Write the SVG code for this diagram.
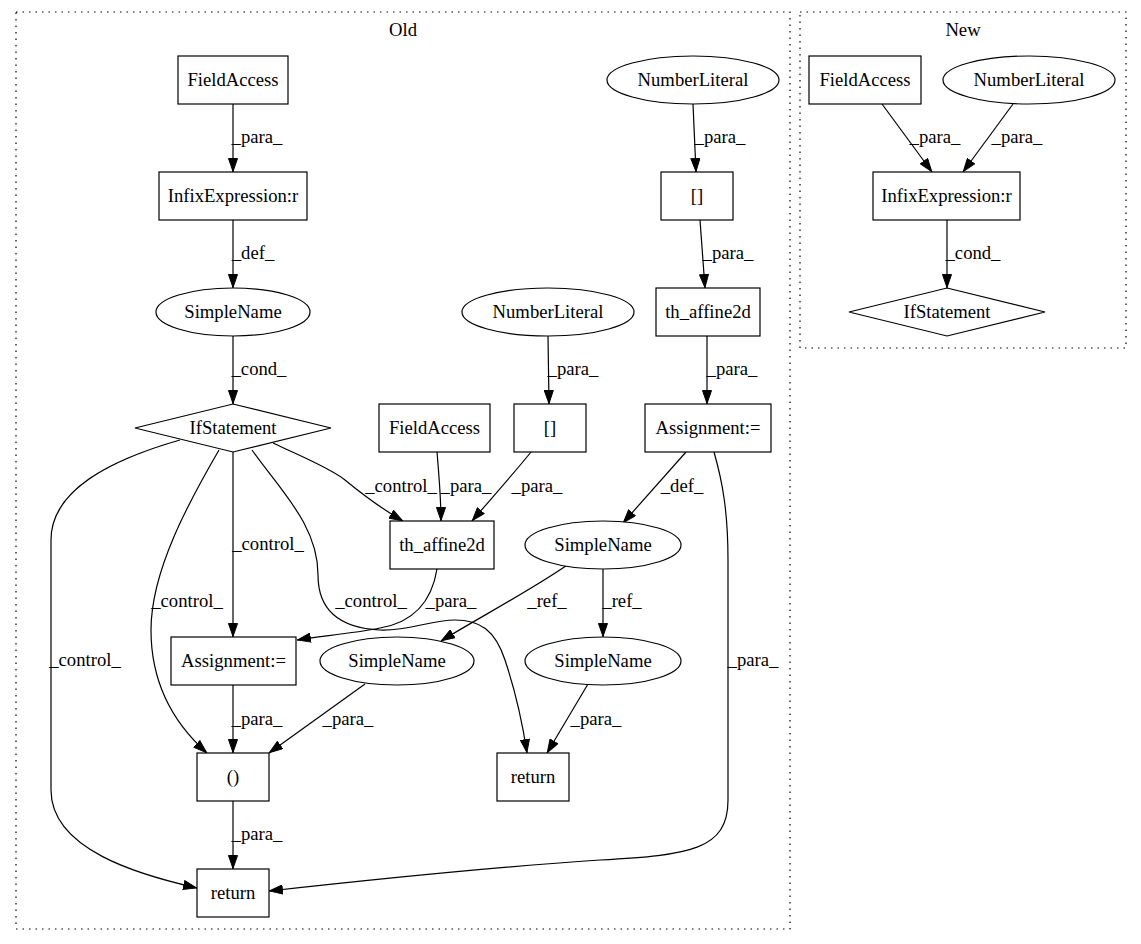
<svg xmlns="http://www.w3.org/2000/svg" width="1141" height="944" viewBox="0 0 1141 944">
<style>
text{font-family:"Liberation Serif","Times New Roman",serif;font-size:18.67px;fill:#000;stroke:none;text-anchor:middle}
.n{fill:#fff;stroke:#000;stroke-width:1.2}
.e{fill:none;stroke:#000;stroke-width:1.2}
.c{fill:none;stroke:#000;stroke-width:1.2;stroke-dasharray:1.5,5}
</style>
<defs>
<marker id="a" viewBox="0 0 14 10" refX="14" refY="5" markerWidth="14" markerHeight="10" markerUnits="userSpaceOnUse" orient="auto">
<path d="M0.5,0.5 L13.5,5 L0.5,9.5 z" fill="#000" stroke="#000" stroke-width="1"/>
</marker>
</defs>
<rect width="1141" height="944" fill="#fff"/>
<g id="cluster_old">
<rect class="c" x="16" y="12" width="774" height="917"/>
<text x="403" y="36">Old</text>
</g>
<g id="cluster_new">
<rect class="c" x="800" y="12" width="326" height="336"/>
<text x="963" y="36">New</text>
</g>
<g id="edges">
<path class="e" marker-end="url(#a)" d="M233,104 L233,172"/>
<path class="e" marker-end="url(#a)" d="M233,220 L233,288"/>
<path class="e" marker-end="url(#a)" d="M233,336 L233,404"/>
<path class="e" marker-end="url(#a)" d="M273,443 C300,456 330,468 345,480 C362,494 382,509 403,521"/>
<path class="e" marker-end="url(#a)" d="M437,452 C439,475 441,500 441,521"/>
<path class="e" marker-end="url(#a)" d="M531,452 C515,472 490,500 472,521"/>
<path class="e" marker-end="url(#a)" d="M548,336 L549,404"/>
<path class="e" marker-end="url(#a)" d="M233,452 L233,637"/>
<path class="e" marker-end="url(#a)" d="M219,450 C190,500 151,570 151,630 C151,680 170,720 207,753"/>
<path class="e" marker-end="url(#a)" d="M180,440 C110,460 51,490 51,540 L51,790 C51,850 140,875 197,888"/>
<path class="e" marker-end="url(#a)" d="M252,450 C280,490 318,525 318,575 C318,610 340,628 380,630 C410,631 430,620 455,620 C480,620 495,630 505,660 C515,690 522,720 527,753"/>
<path class="e" marker-end="url(#a)" d="M437,569 C432,600 415,622 380,628 C350,634 320,636 297,640"/>
<path class="e" marker-end="url(#a)" d="M570,563 C540,585 475,620 441,641"/>
<path class="e" marker-end="url(#a)" d="M603,569 L603,637"/>
<path class="e" marker-end="url(#a)" d="M686,452 L623,523"/>
<path class="e" marker-end="url(#a)" d="M714,452 C722,480 728,510 728,560 L728,800 C728,850 690,855 600,860 C480,868 350,882 269,891"/>
<path class="e" marker-end="url(#a)" d="M365,684 L269,753"/>
<path class="e" marker-end="url(#a)" d="M233,685 L233,753"/>
<path class="e" marker-end="url(#a)" d="M233,801 L233,869"/>
<path class="e" marker-end="url(#a)" d="M588,684 L547,753"/>
<path class="e" marker-end="url(#a)" d="M693,104 L696,172"/>
<path class="e" marker-end="url(#a)" d="M700,220 L705,288"/>
<path class="e" marker-end="url(#a)" d="M707,336 L707,404"/>
<path class="e" marker-end="url(#a)" d="M882,104 L932,172"/>
<path class="e" marker-end="url(#a)" d="M1013,104 L963,172"/>
<path class="e" marker-end="url(#a)" d="M947,220 L947,288"/>
<g id="edge_labels">
<text x="257" y="143">_para_</text>
<text x="253" y="259">_def_</text>
<text x="259" y="375">_cond_</text>
<text x="401" y="492">_control_</text>
<text x="466" y="492">_para_</text>
<text x="537" y="492">_para_</text>
<text x="573" y="375">_para_</text>
<text x="268" y="550">_control_</text>
<text x="187" y="607">_control_</text>
<text x="85" y="666">_control_</text>
<text x="371" y="607">_control_</text>
<text x="451" y="607">_para_</text>
<text x="547" y="607">_ref_</text>
<text x="622" y="607">_ref_</text>
<text x="682" y="492">_def_</text>
<text x="753" y="666">_para_</text>
<text x="348" y="725">_para_</text>
<text x="257" y="725">_para_</text>
<text x="257" y="840">_para_</text>
<text x="596" y="725">_para_</text>
<text x="720" y="143">_para_</text>
<text x="728" y="259">_para_</text>
<text x="732" y="375">_para_</text>
<text x="935" y="143">_para_</text>
<text x="1017" y="143">_para_</text>
<text x="973" y="259">_cond_</text>
</g>
</g>
<g id="FA1"><rect class="n" x="178" y="56" width="110" height="48"/><text x="233" y="86">FieldAccess</text></g>
<g id="IE1"><rect class="n" x="159" y="172" width="148" height="48"/><text x="233" y="202">InfixExpression:r</text></g>
<g id="SN1"><ellipse class="n" cx="233" cy="312" rx="77" ry="24"/><text x="233" y="318">SimpleName</text></g>
<g id="IF1"><polygon class="n" points="233,404 331,428 233,452 135,428"/><text x="233" y="434">IfStatement</text></g>
<g id="FA2"><rect class="n" x="379" y="404" width="111" height="48"/><text x="434.5" y="434">FieldAccess</text></g>
<g id="BR2"><rect class="n" x="514" y="404" width="72" height="48"/><text x="550" y="434">[]</text></g>
<g id="NL2"><ellipse class="n" cx="548" cy="312" rx="86" ry="24"/><text x="548" y="318">NumberLiteral</text></g>
<g id="TA2"><rect class="n" x="390" y="521" width="104" height="48"/><text x="442" y="551">th_affine2d</text></g>
<g id="AS1"><rect class="n" x="171" y="637" width="125" height="48"/><text x="233.5" y="667">Assignment:=</text></g>
<g id="SN2"><ellipse class="n" cx="397" cy="661" rx="77" ry="24"/><text x="397" y="667">SimpleName</text></g>
<g id="PAR"><rect class="n" x="197" y="753" width="72" height="48"/><text x="233" y="783">()</text></g>
<g id="RET1"><rect class="n" x="197" y="869" width="72" height="48"/><text x="233" y="899">return</text></g>
<g id="NL1"><ellipse class="n" cx="693" cy="80" rx="86" ry="24"/><text x="693" y="86">NumberLiteral</text></g>
<g id="BR1"><rect class="n" x="661" y="172" width="72" height="48"/><text x="697" y="202">[]</text></g>
<g id="TA1"><rect class="n" x="656" y="288" width="104" height="48"/><text x="708" y="318">th_affine2d</text></g>
<g id="AS2"><rect class="n" x="645" y="404" width="126" height="48"/><text x="708" y="434">Assignment:=</text></g>
<g id="SN3"><ellipse class="n" cx="603" cy="545" rx="78" ry="24"/><text x="603" y="551">SimpleName</text></g>
<g id="SN4"><ellipse class="n" cx="603" cy="661" rx="78" ry="24"/><text x="603" y="667">SimpleName</text></g>
<g id="RET2"><rect class="n" x="497" y="753" width="72" height="48"/><text x="533" y="783">return</text></g>
<g id="FA3"><rect class="n" x="809" y="56" width="112" height="48"/><text x="865" y="86">FieldAccess</text></g>
<g id="NL3"><ellipse class="n" cx="1029" cy="80" rx="86" ry="24"/><text x="1029" y="86">NumberLiteral</text></g>
<g id="IE3"><rect class="n" x="873" y="172" width="147" height="48"/><text x="946.5" y="202">InfixExpression:r</text></g>
<g id="IF3"><polygon class="n" points="947,288 1045,312 947,336 849,312"/><text x="947" y="318">IfStatement</text></g>
</svg>
